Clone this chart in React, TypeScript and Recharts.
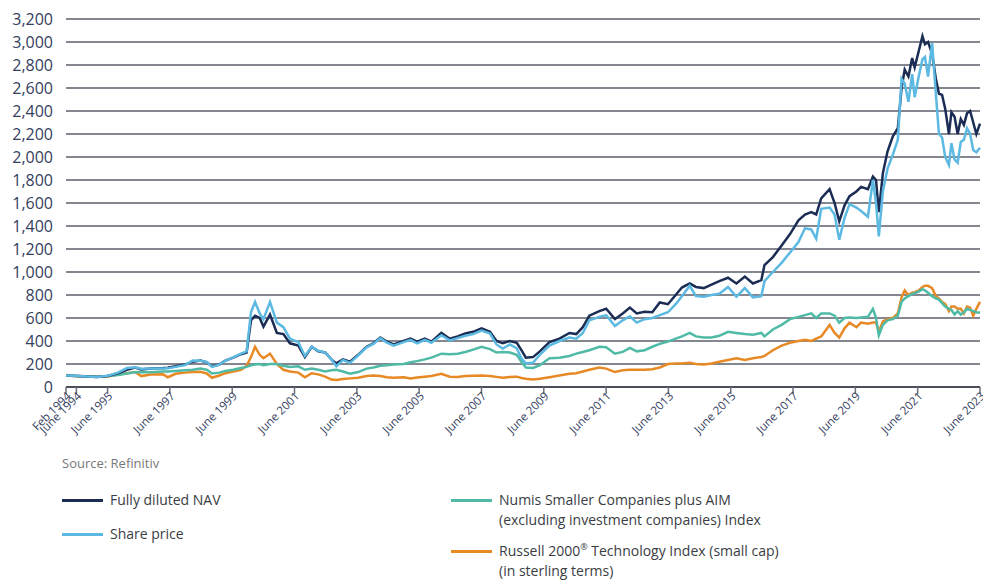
import React from "react";
import { LineChart, Line, XAxis, YAxis, CartesianGrid } from "recharts";

// decimal years, Feb 1994 .. June 2023 (rebased to 100)
const dates = [
  1994.083, 1994.42, 1994.75, 1995.08, 1995.42, 1995.75, 1996.04, 1996.3, 1996.5, 1996.8,
  1997.2, 1997.35, 1997.6, 1997.9, 1998.15, 1998.4, 1998.6, 1998.77, 1999.0, 1999.2,
  1999.45, 1999.7, 1999.88, 2000.02, 2000.15, 2000.3, 2000.42, 2000.63, 2000.85, 2001.06,
  2001.27, 2001.54, 2001.75, 2001.97, 2002.18, 2002.4, 2002.6, 2002.76, 2002.97, 2003.2,
  2003.46, 2003.73, 2003.95, 2004.17, 2004.38, 2004.6, 2004.92, 2005.14, 2005.35, 2005.6,
  2005.81, 2006.13, 2006.4, 2006.65, 2006.9, 2007.15, 2007.42, 2007.69, 2007.9, 2008.1,
  2008.33, 2008.55, 2008.7, 2008.84, 2009.07, 2009.29, 2009.6, 2009.92, 2010.24, 2010.46,
  2010.67, 2010.88, 2011.2, 2011.42, 2011.7, 2011.95, 2012.18, 2012.4, 2012.65, 2012.9,
  2013.14, 2013.4, 2013.65, 2013.85, 2014.1, 2014.3, 2014.55, 2014.8, 2015.05, 2015.33,
  2015.6, 2015.87, 2016.13, 2016.4, 2016.5, 2016.77, 2017.05, 2017.32, 2017.59, 2017.8,
  2018.0, 2018.16, 2018.32, 2018.59, 2018.75, 2018.9, 2019.07, 2019.23, 2019.45, 2019.6,
  2019.82, 2019.98, 2020.08, 2020.17, 2020.3, 2020.45, 2020.62, 2020.78, 2020.9, 2021.0,
  2021.12, 2021.24, 2021.32, 2021.45, 2021.57, 2021.65, 2021.75, 2021.88, 2022.0, 2022.1,
  2022.2, 2022.3, 2022.42, 2022.5, 2022.6, 2022.7, 2022.8, 2022.9, 2023.0, 2023.1,
  2023.2, 2023.3, 2023.417,
];

const nav = [
  100, 95, 92, 88, 95, 120, 150, 170, 152, 160,
  165, 168, 180, 195, 220, 230, 215, 180, 195, 230,
  255, 285, 300, 580, 620, 600, 525, 630, 470, 460,
  380, 360, 260, 350, 310, 300, 240, 205, 240, 220,
  280, 350, 380, 430, 395, 370, 400, 420, 395, 420,
  395, 470, 420, 440, 465, 480, 510, 480, 400, 380,
  400, 385, 320, 255, 260, 310, 390, 420, 470, 460,
  520, 620, 660, 680, 590, 640, 690, 640, 655, 650,
  735, 720, 800, 865, 900, 870, 860, 890, 920, 950,
  900, 960, 900, 930, 1060, 1130, 1230, 1330, 1450, 1500,
  1520, 1500, 1640, 1720, 1600, 1440, 1580, 1660, 1700, 1740,
  1720, 1830, 1800, 1520, 1860, 2050, 2180, 2250, 2600, 2760,
  2700, 2860, 2780, 2920, 3050, 2980, 3000, 2900, 2680, 2550,
  2540, 2420, 2200, 2390, 2350, 2200, 2330, 2280, 2380, 2400,
  2300, 2200, 2290,
];

const sharePrice = [
  100, 97, 92, 88, 97, 125, 165, 172, 158, 160,
  160, 162, 175, 190, 230, 228, 218, 175, 195, 228,
  258, 290, 310, 650, 740, 640, 590, 740, 560, 520,
  420, 390, 270, 350, 315, 300, 240, 180, 235, 210,
  275, 345, 375, 425, 385, 360, 390, 410, 380, 410,
  385, 450, 405, 425, 445, 460, 490, 465, 370, 335,
  370, 335, 250, 205, 210, 280, 360, 400, 430, 420,
  470, 580, 610, 625, 530, 580, 615, 560, 590, 600,
  625, 650, 720, 790, 880, 790, 785, 800, 810, 870,
  785, 860, 780, 790, 920, 1000, 1080, 1170, 1260, 1380,
  1370, 1290, 1550, 1560, 1500, 1280, 1470, 1590, 1560, 1530,
  1480, 1800, 1600, 1310, 1700, 1900, 2020, 2150, 2680, 2640,
  2480, 2720, 2520, 2700, 2850, 2870, 2700, 2990, 2550, 2200,
  2170, 2000, 1930, 2120, 1980, 1950, 2130, 2150, 2250, 2200,
  2060, 2040, 2080,
];

const numis = [
  100, 95, 92, 90, 95, 105, 118, 128, 130, 128,
  135, 135, 140, 145, 150, 160, 150, 118, 125, 140,
  150, 165, 175, 188, 195, 200, 190, 200, 200, 185,
  175, 180, 150, 160, 150, 135, 145, 150, 135, 115,
  130, 160, 170, 185, 190, 195, 200, 215, 225, 240,
  255, 290, 285, 290, 305, 325, 350, 330, 300, 305,
  300, 280, 220, 170, 165, 190, 250, 255, 270, 290,
  305, 320, 350, 345, 290, 305, 340, 310, 320, 350,
  375, 395, 420, 440, 470, 440, 430, 430, 445, 480,
  470, 460, 455, 470, 440, 500, 540, 590, 610, 625,
  640, 600, 640, 640, 620, 560, 600, 605, 600, 605,
  610, 680, 600, 450, 540, 580, 590, 620, 740, 770,
  790, 810, 815, 830, 850, 840, 820, 790, 770, 760,
  730, 700, 680, 670, 630, 660, 630, 650, 680, 670,
  660, 650, 645,
];

const russell = [
  100, 96, 93, 90, 92, 108, 120, 130, 95, 108,
  110, 85, 115, 125, 130, 132, 118, 80, 100, 120,
  135, 150, 185, 260, 350, 280, 250, 290, 200, 150,
  135, 125, 85, 120, 110, 90, 65, 60, 70, 75,
  80, 95, 100, 95, 85, 80, 85, 75, 82, 90,
  95, 115, 90, 88, 95, 98, 100, 95, 88, 80,
  88, 90, 78, 72, 65, 72, 85, 100, 115, 120,
  135, 150, 170, 160, 130, 145, 150, 150, 150, 155,
  170, 200, 205, 205, 210, 200, 195, 205, 220, 235,
  250, 235, 250, 260, 270, 320, 360, 385, 400, 410,
  400, 420, 440, 540, 470, 430, 510, 560, 520, 560,
  550, 560, 560, 480, 570, 590, 600, 640, 780, 840,
  800, 820, 825, 840, 870, 880, 880, 860, 790, 770,
  740, 720, 660, 700, 700, 680, 680, 640, 700, 690,
  620, 680, 740,
];

const xTicks = [
  1994.083, 1994.417, 1995.417, 1997.417, 1999.417, 2001.417, 2003.417, 2005.417,
  2007.417, 2009.417, 2011.417, 2013.417, 2015.417, 2017.417, 2019.417, 2021.417, 2023.417,
];
const xTickLabels = [
  "Feb 1994", "June 1994", "June 1995", "June 1997", "June 1999", "June 2001", "June 2003", "June 2005",
  "June 2007", "June 2009", "June 2011", "June 2013", "June 2015", "June 2017", "June 2019", "June 2021", "June 2023",
];
const yTicks = [0, 200, 400, 600, 800, 1000, 1200, 1400, 1600, 1800, 2000, 2200, 2400, 2600, 2800, 3000, 3200];

const COLORS = {
  nav: "#1b2d54",
  share: "#5cb9e2",
  numis: "#4fbaa6",
  russell: "#e78a26",
};

const data = dates.map((d, i) => ({
  date: d,
  nav: nav[i],
  share: sharePrice[i],
  numis: numis[i],
  russell: russell[i],
}));

const TEXT = "#34405e";

function XTick(props: any) {
  const { x, y, payload } = props;
  const idx = xTicks.indexOf(payload.value);
  return (
    <g transform={`translate(${x},${y})`}>
      <text
        x={2}
        y={6}
        textAnchor="end"
        transform="rotate(-45)"
        fontSize={11.5}
        fill={TEXT}
        fontFamily="Open Sans"
      >
        {xTickLabels[idx]}
      </text>
    </g>
  );
}

function LegendItem({ color, top, left, lines }: { color: string; top: number; left: number; lines: React.ReactNode[] }) {
  return (
    <>
      <div
        style={{
          position: "absolute",
          left,
          top: top - 1.5,
          width: 41,
          height: 3,
          background: color,
        }}
      />
      <div
        style={{
          position: "absolute",
          left: left + 48,
          top: top - 10,
          fontSize: 14,
          lineHeight: "20px",
          color: "#3a3d44",
          whiteSpace: "nowrap",
        }}
      >
        {lines.map((l, i) => (
          <div key={i}>{l}</div>
        ))}
      </div>
    </>
  );
}

export default function App() {
  return (
    <div
      style={{
        position: "absolute",
        left: 0,
        top: 0,
        width: 983,
        height: 580,
        background: "#fff",
        fontFamily: "'Open Sans', sans-serif",
        overflow: "hidden",
      }}
    >
      <LineChart
        width={983}
        height={457}
        data={data}
        margin={{ top: 19, right: 3, left: 8, bottom: 0 }}
      >
        <CartesianGrid vertical={false} stroke="#5b5f6b" strokeWidth={1.5} />
        <XAxis
          dataKey="date"
          type="number"
          domain={[1994.083, 2023.417]}
          ticks={xTicks}
          interval={0}
          height={70}
          tick={<XTick />}
          tickSize={7}
          tickMargin={0}
          axisLine={{ stroke: "#4a4e5a", strokeWidth: 2 }}
          tickLine={{ stroke: "#6a6e78", strokeWidth: 1.5 }}
        />
        <YAxis
          width={58}
          domain={[0, 3200]}
          ticks={yTicks}
          interval={0}
          axisLine={false}
          tickLine={false}
          tickMargin={7}
          tickFormatter={(v: number) => v.toLocaleString("en-US")}
          tick={{ fill: TEXT, fontSize: 16, fontFamily: "Open Sans" }}
        />
        <Line type="linear" dataKey="russell" stroke={COLORS.russell} strokeWidth={2.5} dot={false} isAnimationActive={false} />
        <Line type="linear" dataKey="numis" stroke={COLORS.numis} strokeWidth={2.5} dot={false} isAnimationActive={false} />
        <Line type="linear" dataKey="nav" stroke={COLORS.nav} strokeWidth={2.5} dot={false} isAnimationActive={false} />
        <Line type="linear" dataKey="share" stroke={COLORS.share} strokeWidth={2.5} dot={false} isAnimationActive={false} />
      </LineChart>

      <div
        style={{
          position: "absolute",
          left: 62,
          top: 454,
          fontSize: 13,
          color: "#77787b",
        }}
      >
        Source: Refinitiv
      </div>

      <LegendItem color={COLORS.nav} left={62} top={500} lines={["Fully diluted NAV"]} />
      <LegendItem color={COLORS.share} left={62} top={534} lines={["Share price"]} />
      <LegendItem
        color={COLORS.numis}
        left={451}
        top={500}
        lines={["Numis Smaller Companies plus AIM", "(excluding investment companies) Index"]}
      />
      <LegendItem
        color={COLORS.russell}
        left={451}
        top={551}
        lines={[
          <span>
            Russell 2000<sup style={{ fontSize: 9, lineHeight: 0 }}>®</sup> Technology Index (small cap)
          </span>,
          "(in sterling terms)",
        ]}
      />
    </div>
  );
}
